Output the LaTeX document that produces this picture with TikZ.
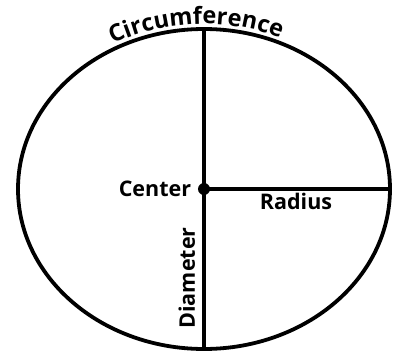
\documentclass[tikz,border=0pt]{standalone}
\usepackage{fontspec}
\setmainfont{Open Sans}
\usetikzlibrary{decorations.text}
\begin{document}
\begin{tikzpicture}[x=1pt, y=1pt, line width=3.8pt,
    lbl/.style={font=\fontsize{21.5}{24}\selectfont\bfseries, inner sep=0pt}]
    \useasboundingbox (-204,-165) rectangle (193,189);
    % Kreis und Punkte
    \coordinate (c) at (0,0);
    \coordinate (top) at (0,160);
    \coordinate (bot) at (0,-160);
    \coordinate (rim) at (186,0);
    \draw (c) ellipse [x radius=186, y radius=160];
    \draw[line width=3.3pt] (top) -- (bot);
    \draw[line width=3.3pt] (c) -- (rim);
    \fill (c) circle [radius=6];

    % Beschriftungen
    \node[lbl, anchor=base east] (center) at (-11,-7) {Center};
    \node[lbl, anchor=base] (radius) at (92,-20) {Radius};
    \node[lbl, anchor=base, rotate=90] (diam) at (-9,-89) {Diameter};
    \path[decorate, decoration={text along path, text align=center,
        text={|\fontsize{23.5}{26}\selectfont\bfseries|Circumference}}]
        (c) ++(155:191 and 165) arc [start angle=155, end angle=30.4, x radius=191, y radius=165];
\end{tikzpicture}
\end{document}
